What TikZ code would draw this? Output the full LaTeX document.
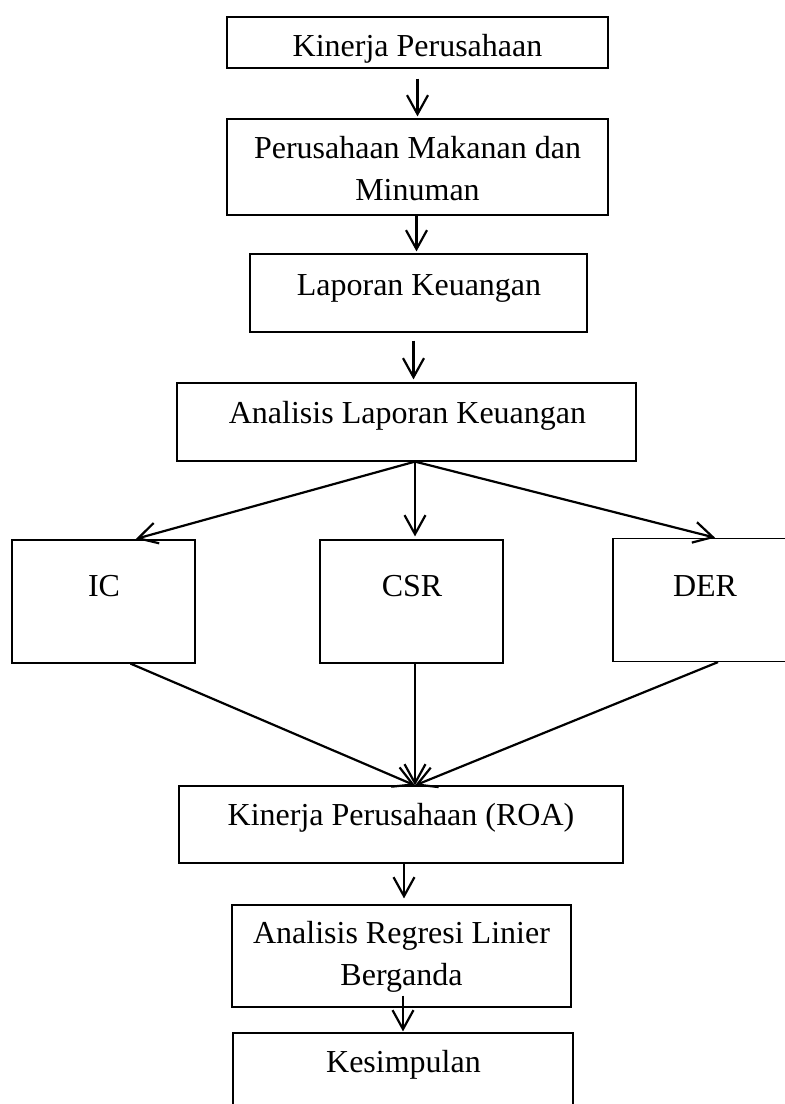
\documentclass[tikz,border=0pt]{standalone}
\usepackage{fontspec}
\setmainfont{Liberation Serif}
\usetikzlibrary{arrows.meta}
\begin{document}
\begin{tikzpicture}[x=1pt,y=-1pt,
    kotak/.style={draw,line width=1.2pt,inner sep=0pt},
    teks/.style={anchor=base,align=center,inner sep=0pt,font=\fontsize{32}{42}\selectfont},
    panah/.style={line width=2.2pt,-{Straight Barb[length=19pt,width=21pt]}}]
    \useasboundingbox (0,0) rectangle (785,1104);
    \clip (0,0) rectangle (785,1104);

    % kotak-kotak
    \node[kotak,minimum width=381,minimum height=51] (kin) at (417.5,42.5) {};
    \node[kotak,minimum width=381,minimum height=96] (mm) at (417.5,167) {};
    \node[kotak,minimum width=337,minimum height=78] (lap) at (418.5,293) {};
    \node[kotak,minimum width=459,minimum height=78] (ana) at (406.5,422) {};
    \node[kotak,minimum width=183,minimum height=123] (ic) at (103.5,601.5) {};
    \node[kotak,minimum width=183,minimum height=123] (csr) at (411.5,601.5) {};
    \node[kotak,minimum width=183,minimum height=123] (der) at (704.5,600) {};
    \node[kotak,minimum width=444,minimum height=77] (roa) at (401,824.5) {};
    \node[kotak,minimum width=339,minimum height=102] (reg) at (401.5,956) {};
    \node[kotak,minimum width=340,minimum height=100] (kes) at (403,1083) {};

    % teks (base = baris terakhir)
    \node[teks] (kinT) at (417.5,56) {Kinerja Perusahaan};
    \node[teks] (mmT) at (417.5,200) {Perusahaan Makanan dan\\Minuman};
    \node[teks] (lapT) at (419,295) {Laporan Keuangan};
    \node[teks] (anaT) at (407.5,423) {Analisis Laporan Keuangan};
    \node[teks] (icT) at (104,596) {IC};
    \node[teks] (csrT) at (412,596) {CSR};
    \node[teks] (derT) at (705,596) {DER};
    \node[teks] (roaT) at (401,825) {Kinerja Perusahaan (ROA)};
    \node[teks] (regT) at (401.5,985) {Analisis Regresi Linier\\Berganda};
    \node[teks] (kesT) at (403.5,1072) {Kesimpulan};

    \coordinate (cabang) at ([xshift=8.5pt]ana.south);
    \coordinate (temu) at ([xshift=14pt]roa.north);

    % panah
    \draw[panah,shorten <=10pt,shorten >=2pt] (kin.south) -- (mm.north);
    \draw[panah,shorten >=2pt] ([xshift=-1pt]mm.south) -- ([xshift=-1pt]mm.south |- lap.north);
    \draw[panah,shorten <=8pt,shorten >=3pt] ([xshift=-5pt]lap.south) -- ([xshift=-5pt]lap.south |- ana.north);
    \draw[panah,shorten >=2pt] (cabang) -- ([xshift=30.5pt]ic.north);
    \draw[panah,shorten >=3pt] (cabang) -- (cabang |- csr.north);
    \draw[panah,shorten >=1pt] (cabang) -- ([xshift=11.5pt]der.north);
    \draw[panah] ([xshift=27pt]ic.south) -- (temu);
    \draw[panah] (cabang |- csr.south) -- (temu);
    \draw[panah] ([xshift=13.5pt]der.south) -- (temu);
    \draw[panah,shorten >=6pt] ([xshift=3pt]roa.south) -- ([xshift=3pt]roa.south |- reg.north);
    \draw[panah,shorten >=1pt] ([xshift=1.5pt,yshift=12pt]reg.south) -- ([xshift=1.5pt]reg.south |- kes.north);
\end{tikzpicture}
\end{document}
